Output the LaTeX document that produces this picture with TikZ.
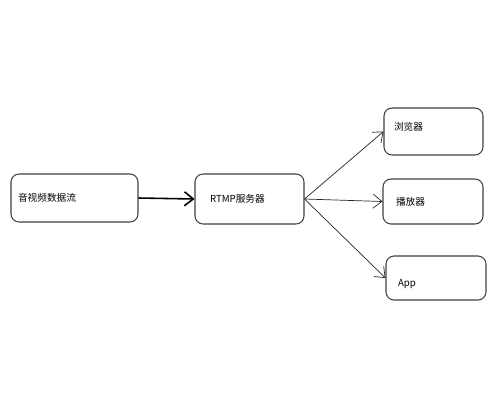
\documentclass[tikz,border=0pt]{standalone}
\usepackage{fontspec}
\newfontfamily\cjk{Noto Sans CJK SC}
\usetikzlibrary{arrows.meta, positioning}

\begin{document}
\begin{tikzpicture}[
  x=0.02cm, y=-0.02cm,
  >={Straight Barb[length=5pt, width=8pt]},
  box/.style={draw=black!75, rectangle, rounded corners=0.16cm, line width=0.6pt, inner xsep=0.14cm, align=left, font=\cjk\fontsize{5.5}{6.5}\selectfont},
  flow/.style={->, line width=0.9pt, black},
  thinflow/.style={->, line width=0.4pt, black!85}
]
\useasboundingbox (0,0) rectangle (500,400);

\node[box, minimum width=2.54cm, minimum height=0.96cm, text width=2.26cm] (Source) at (74.5,198) {音视频数据流};
\node[box, minimum width=2.18cm, minimum height=1.0cm, text width=1.9cm] (Server) at (249.5,199) {\hspace{0.16cm}RTMP服务器};

\node[box, minimum width=1.98cm, minimum height=0.94cm, text width=1.7cm] (Browser) at (433.5,131.5) {\raisebox{2.5pt}[\height][\depth]{\hspace{0.06cm}浏览器}};
\node[box, minimum width=2.0cm, minimum height=0.9cm, text width=1.72cm] (Player) at (433,201.5) {\hspace{0.12cm}播放器};
\node[box, minimum width=2.0cm, minimum height=0.88cm, text width=1.72cm] (App) at (436,278) {\raisebox{-3.5pt}[\height][\depth]{\hspace{0.1cm}App}};

\draw[flow] (Source.east) -- (Server.west);

\draw[thinflow] (Server.east) -- (Browser.west);
\draw[thinflow] (Server.east) -- (Player.west);
\draw[thinflow] (Server.east) -- (App.west);
\end{tikzpicture}
\end{document}
